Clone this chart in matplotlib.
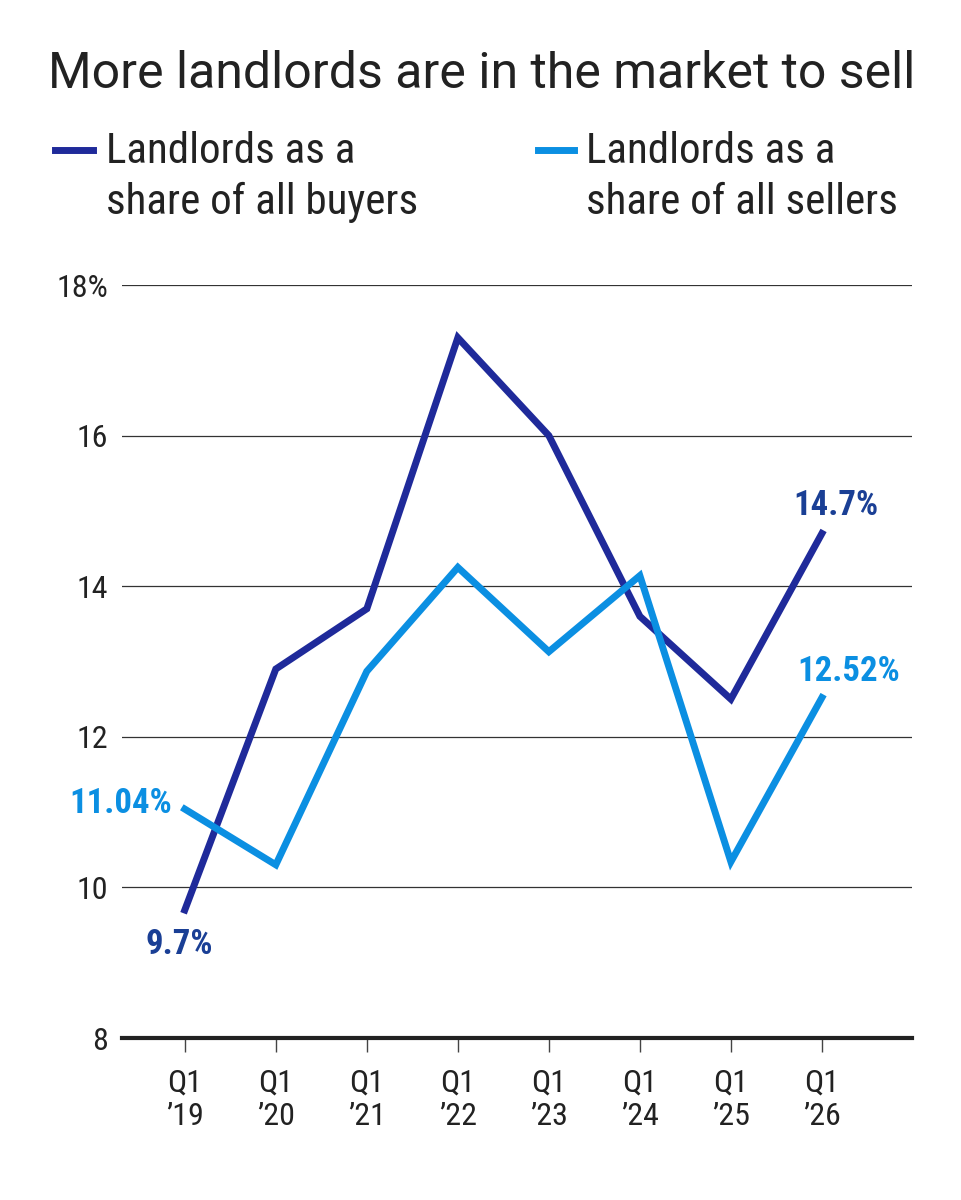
import numpy as np
import matplotlib.pyplot as plt
from matplotlib.lines import Line2D

# data
quarters = ["Q1\n\u201919", "Q1\n\u201920", "Q1\n\u201921", "Q1\n\u201922",
            "Q1\n\u201923", "Q1\n\u201924", "Q1\n\u201925", "Q1\n\u201926"]
buyers = [9.7, 12.9, 13.7, 17.3, 16.0, 13.6, 12.5, 14.7]
sellers = [11.04, 10.3, 12.87, 14.25, 13.13, 14.14, 10.34, 12.52]
yticks = [8, 10, 12, 14, 16, 18]
ytick_labels = ["8", "10", "12", "14", "16", "18%"]

DARK = "#1f2a9a"
LIGHT = "#0b8fe2"
DARK_TXT = "#1a3f95"
TXT = "#222222"

NARROW = ["Liberation Sans Narrow", "Roboto Condensed", "Roboto", "DejaVu Sans"]
plt.rcParams["font.family"] = NARROW

fig = plt.figure(figsize=(9.61, 12), dpi=100)
ax = fig.add_axes([122 / 961, 1 - 1038 / 1200, (912 - 122) / 961, (1038 - 285) / 1200])

x = np.arange(len(quarters))
ax.plot(x, buyers, color=DARK, lw=5, solid_joinstyle="miter", zorder=3, clip_on=False)
ax.plot(x, sellers, color=LIGHT, lw=5, solid_joinstyle="miter", zorder=3, clip_on=False)

ax.set_xlim(-0.69, 7.99)
ax.set_ylim(8, 18)
ax.set_yticks(yticks)
ax.set_yticklabels(ytick_labels)
ax.set_xticks(x)
ax.set_xticklabels(quarters, linespacing=1.2)

for s in ["top", "right", "left"]:
    ax.spines[s].set_visible(False)
ax.spines["bottom"].set_linewidth(3)
ax.spines["bottom"].set_color("#222222")
ax.yaxis.grid(True, color="#333333", lw=0.9)
ax.set_axisbelow(True)
ax.tick_params(axis="y", length=0, pad=10, labelsize=23, labelcolor=TXT)
ax.tick_params(axis="x", length=10, width=1, color="#444444", pad=12,
               labelsize=23, labelcolor=TXT)

# end labels
lab = dict(ha="center", va="center", fontsize=25, fontweight="bold", textcoords="offset points")
ax.annotate(f"{buyers[-1]}%", (x[-1], buyers[-1]), xytext=(10, 20), color=DARK_TXT, **lab)
ax.annotate(f"{sellers[-1]:.2f}%", (x[-1], sellers[-1]), xytext=(19, 19), color=LIGHT, **lab)
ax.annotate(f"{sellers[0]:.2f}%", (x[0], sellers[0]), xytext=(-46, 4), color=LIGHT, **lab)
ax.annotate(f"{buyers[0]}%", (x[0], buyers[0]), xytext=(-4, -25), color=DARK_TXT, **lab)

# title
fig.text(48 / 961, 1 - 74 / 1200, "More landlords are in the market to sell",
         fontsize=36, color=TXT, va="center", ha="left",
         family=["Roboto", "DejaVu Sans"])

# legend
fig.add_artist(Line2D([55 / 961, 93 / 961], [1 - 150 / 1200] * 2, color=DARK, lw=5))
fig.add_artist(Line2D([538 / 961, 574 / 961], [1 - 150 / 1200] * 2, color=LIGHT, lw=5))
fig.text(106 / 961, 1 - 131 / 1200, "Landlords as a\nshare of all buyers", fontsize=31,
         color=TXT, va="top", ha="left", linespacing=1.3)
fig.text(586 / 961, 1 - 131 / 1200, "Landlords as a\nshare of all sellers", fontsize=31,
         color=TXT, va="top", ha="left", linespacing=1.3)

fig.savefig("out.png", dpi=100)
